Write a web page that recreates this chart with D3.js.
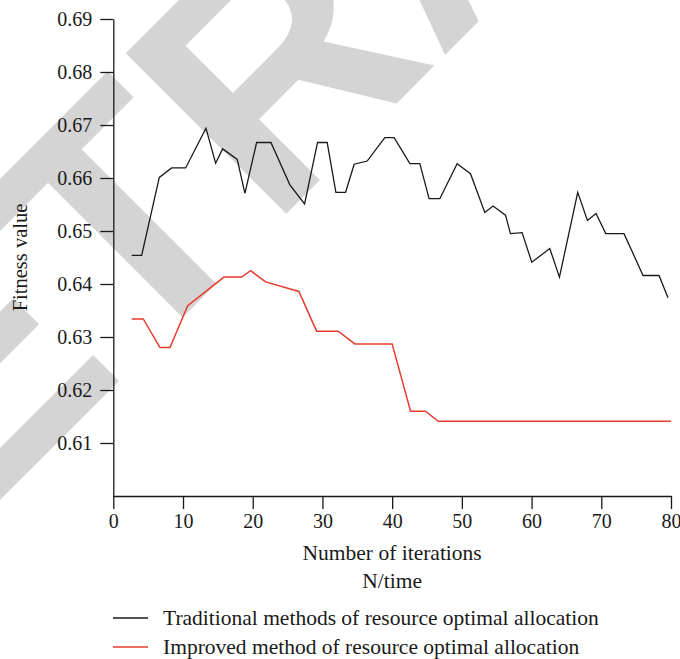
<!DOCTYPE html>
<html>
<head>
<meta charset="utf-8">
<script src="https://cdn.jsdelivr.net/npm/d3@7"></script>
<style>
  html, body { margin: 0; padding: 0; background: #fff; }
  svg { display: block; }
  text { font-family: "Liberation Serif", "DejaVu Serif", serif; }
</style>
</head>
<body>
<div id="chart"></div>
<script>
// ---- data ----
const traditionalX = [2.64, 4.07, 6.6, 8.37, 10.38, 13.29, 14.68, 15.68, 17.78, 18.88, 20.56, 22.61, 25.33, 27.44, 29.3, 30.68, 31.93, 33.32, 34.55, 36.42, 38.95, 40.29, 42.54, 43.97, 45.3, 46.84, 49.32, 51.24, 53.29, 54.48, 56.26, 56.97, 58.64, 60.03, 62.61, 64.0, 66.62, 68.01, 69.25, 70.64, 73.26, 75.99, 78.28, 79.57];
const traditionalY = [0.6454, 0.6454, 0.6601, 0.6619, 0.6619, 0.6694, 0.6628, 0.6655, 0.6635, 0.6571, 0.6667, 0.6667, 0.6587, 0.6551, 0.6667, 0.6667, 0.6573, 0.6573, 0.6626, 0.6632, 0.6676, 0.6676, 0.6627, 0.6627, 0.6561, 0.6561, 0.6627, 0.6608, 0.6535, 0.6547, 0.6530, 0.6495, 0.6497, 0.6441, 0.6467, 0.6413, 0.6573, 0.6520, 0.6533, 0.6495, 0.6495, 0.6416, 0.6416, 0.6374];
const improvedX = [2.64, 4.3, 6.7, 8.13, 10.67, 15.87, 18.41, 19.7, 21.85, 26.62, 29.16, 32.26, 34.65, 40.0, 42.64, 44.79, 46.6, 80];
const improvedY = [0.6334, 0.6334, 0.6280, 0.6280, 0.6359, 0.6413, 0.6413, 0.6425, 0.6404, 0.6386, 0.6311, 0.6311, 0.6287, 0.6287, 0.6160, 0.6160, 0.6141, 0.6141];
const xTicks = [0, 10, 20, 30, 40, 50, 60, 70, 80];
const yTicks = [0.61, 0.62, 0.63, 0.64, 0.65, 0.66, 0.67, 0.68, 0.69];
const seriesNames = ["Traditional methods of resource optimal allocation", "Improved method of resource optimal allocation"];
const seriesColors = ["#1a1a1a", "#e63b2e"];
const xTitle = ["Number of iterations", "N/time"];
const yTitle = "Fitness value";
const watermark = "RETRACTED";

// ---- layout ----
const W = 680, H = 659;
const svg = d3.select("#chart").append("svg").attr("width", W).attr("height", H);

// watermark
svg.append("text")
  .attr("transform", "translate(-196,696) rotate(-45)")
  .attr("x", 0).attr("y", 0)
  .style("font-family", "'Liberation Sans', Arial, sans-serif")
  .style("font-weight", "bold")
  .style("font-size", "330px")
  .attr("fill", "#d4d4d4")
  .text(watermark);

const x = d3.scaleLinear().domain([0, 80]).range([113.3, 671]);
const y = d3.scaleLinear().domain([0.60, 0.69]).range([496, 19]);

const tickFs = 20, titleFs = 21.5, yTitleFs = 20.5;

// y axis
const yAxis = svg.append("g").attr("transform", `translate(${x(0)},0)`)
  .call(d3.axisLeft(y).tickValues(yTicks).tickFormat(d3.format(".2f")).tickSize(13).tickSizeOuter(0));
yAxis.select(".domain").attr("stroke", "#1a1a1a").attr("stroke-width", 1.3);
yAxis.selectAll(".tick line").attr("stroke", "#1a1a1a").attr("stroke-width", 1.3);
yAxis.selectAll(".tick text").attr("x", -21).attr("fill", "#1a1a1a")
  .style("font-size", tickFs + "px").style("font-family", "'Liberation Serif', serif");

// x axis
const xAxis = svg.append("g").attr("transform", `translate(0,${y(0.60)})`)
  .call(d3.axisBottom(x).tickValues(xTicks).tickFormat(d3.format("d")).tickSize(13).tickSizeOuter(0));
xAxis.select(".domain").attr("stroke", "#1a1a1a").attr("stroke-width", 1.3);
xAxis.selectAll(".tick line").attr("stroke", "#1a1a1a").attr("stroke-width", 1.3);
xAxis.selectAll(".tick text").attr("y", 18).attr("fill", "#1a1a1a")
  .style("font-size", tickFs + "px").style("font-family", "'Liberation Serif', serif");

// axis titles
const xc = (x(0) + x(80)) / 2;
svg.append("text").attr("x", xc).attr("y", 560).attr("text-anchor", "middle")
  .style("font-size", titleFs + "px").attr("fill", "#1a1a1a").text(xTitle[0]);
svg.append("text").attr("x", xc).attr("y", 588).attr("text-anchor", "middle")
  .style("font-size", titleFs + "px").attr("fill", "#1a1a1a").text(xTitle[1]);
svg.append("text")
  .attr("transform", `translate(27,${(y(0.60) + y(0.69)) / 2}) rotate(-90)`)
  .attr("text-anchor", "middle")
  .style("font-size", yTitleFs + "px").attr("fill", "#1a1a1a").text(yTitle);

// lines
const line = d3.line().x(d => x(d[0])).y(d => y(d[1]));
const tradData = traditionalX.map((v, i) => [v, traditionalY[i]]);
const impData = improvedX.map((v, i) => [v, improvedY[i]]);
svg.append("path").datum(tradData).attr("d", line)
  .attr("fill", "none").attr("stroke", seriesColors[0]).attr("stroke-width", 1.3).attr("stroke-linejoin", "miter");
svg.append("path").datum(impData).attr("d", line)
  .attr("fill", "none").attr("stroke", seriesColors[1]).attr("stroke-width", 1.5).attr("stroke-linejoin", "miter");

// legend
const legY = [618, 647];
seriesNames.forEach((name, i) => {
  svg.append("line").attr("x1", 113).attr("x2", 148).attr("y1", legY[i]).attr("y2", legY[i])
    .attr("stroke", seriesColors[i]).attr("stroke-width", 1.4);
  svg.append("text").attr("x", 163).attr("y", legY[i] + 7)
    .style("font-size", titleFs + "px").attr("fill", "#1a1a1a").text(name);
});
</script>
</body>
</html>
